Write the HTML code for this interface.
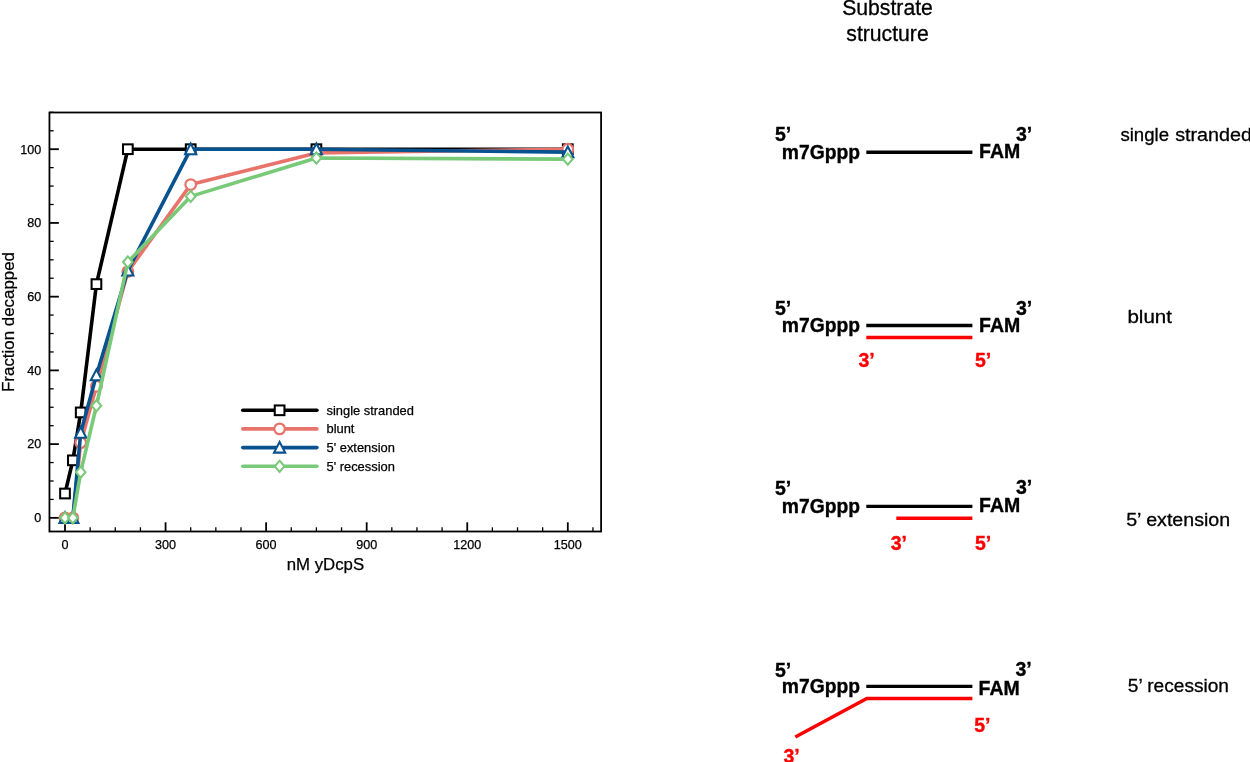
<!DOCTYPE html>
<html><head><meta charset="utf-8"><title>Fraction decapped</title>
<style>html,body{margin:0;padding:0;background:#fff;}body{width:1250px;height:762px;overflow:hidden;}svg{display:block;}text{font-family:"Liberation Sans",sans-serif;}</style></head><body>
<svg width="1250" height="762" viewBox="0 0 1250 762">
<rect width="1250" height="762" fill="#fff"/>
<clipPath id="pc"><rect x="49.45" y="112.5" width="551.65" height="419.0"/></clipPath>
<g stroke="#000" stroke-width="1.8" fill="none">
<line x1="49.45" y1="517.85" x2="58.85" y2="517.85"/>
<line x1="49.45" y1="499.42" x2="53.650000000000006" y2="499.42" stroke-width="1.3"/>
<line x1="49.45" y1="480.99" x2="53.650000000000006" y2="480.99" stroke-width="1.3"/>
<line x1="49.45" y1="462.55" x2="53.650000000000006" y2="462.55" stroke-width="1.3"/>
<line x1="49.45" y1="444.12" x2="58.85" y2="444.12"/>
<line x1="49.45" y1="425.69" x2="53.650000000000006" y2="425.69" stroke-width="1.3"/>
<line x1="49.45" y1="407.25" x2="53.650000000000006" y2="407.25" stroke-width="1.3"/>
<line x1="49.45" y1="388.82" x2="53.650000000000006" y2="388.82" stroke-width="1.3"/>
<line x1="49.45" y1="370.39" x2="58.85" y2="370.39"/>
<line x1="49.45" y1="351.96" x2="53.650000000000006" y2="351.96" stroke-width="1.3"/>
<line x1="49.45" y1="333.52" x2="53.650000000000006" y2="333.52" stroke-width="1.3"/>
<line x1="49.45" y1="315.09" x2="53.650000000000006" y2="315.09" stroke-width="1.3"/>
<line x1="49.45" y1="296.66" x2="58.85" y2="296.66"/>
<line x1="49.45" y1="278.23" x2="53.650000000000006" y2="278.23" stroke-width="1.3"/>
<line x1="49.45" y1="259.80" x2="53.650000000000006" y2="259.80" stroke-width="1.3"/>
<line x1="49.45" y1="241.36" x2="53.650000000000006" y2="241.36" stroke-width="1.3"/>
<line x1="49.45" y1="222.93" x2="58.85" y2="222.93"/>
<line x1="49.45" y1="204.50" x2="53.650000000000006" y2="204.50" stroke-width="1.3"/>
<line x1="49.45" y1="186.06" x2="53.650000000000006" y2="186.06" stroke-width="1.3"/>
<line x1="49.45" y1="167.63" x2="53.650000000000006" y2="167.63" stroke-width="1.3"/>
<line x1="49.45" y1="149.20" x2="58.85" y2="149.20"/>
<line x1="49.45" y1="130.77" x2="53.650000000000006" y2="130.77" stroke-width="1.3"/>
<line x1="49.45" y1="112.34" x2="53.650000000000006" y2="112.34" stroke-width="1.3"/>
<line x1="65.00" y1="531.5" x2="65.00" y2="522.3"/>
<line x1="90.14" y1="531.5" x2="90.14" y2="527.3" stroke-width="1.3"/>
<line x1="115.28" y1="531.5" x2="115.28" y2="527.3" stroke-width="1.3"/>
<line x1="140.42" y1="531.5" x2="140.42" y2="527.3" stroke-width="1.3"/>
<line x1="165.56" y1="531.5" x2="165.56" y2="522.3"/>
<line x1="190.70" y1="531.5" x2="190.70" y2="527.3" stroke-width="1.3"/>
<line x1="215.84" y1="531.5" x2="215.84" y2="527.3" stroke-width="1.3"/>
<line x1="240.98" y1="531.5" x2="240.98" y2="527.3" stroke-width="1.3"/>
<line x1="266.12" y1="531.5" x2="266.12" y2="522.3"/>
<line x1="291.26" y1="531.5" x2="291.26" y2="527.3" stroke-width="1.3"/>
<line x1="316.40" y1="531.5" x2="316.40" y2="527.3" stroke-width="1.3"/>
<line x1="341.54" y1="531.5" x2="341.54" y2="527.3" stroke-width="1.3"/>
<line x1="366.68" y1="531.5" x2="366.68" y2="522.3"/>
<line x1="391.82" y1="531.5" x2="391.82" y2="527.3" stroke-width="1.3"/>
<line x1="416.96" y1="531.5" x2="416.96" y2="527.3" stroke-width="1.3"/>
<line x1="442.10" y1="531.5" x2="442.10" y2="527.3" stroke-width="1.3"/>
<line x1="467.24" y1="531.5" x2="467.24" y2="522.3"/>
<line x1="492.38" y1="531.5" x2="492.38" y2="527.3" stroke-width="1.3"/>
<line x1="517.52" y1="531.5" x2="517.52" y2="527.3" stroke-width="1.3"/>
<line x1="542.66" y1="531.5" x2="542.66" y2="527.3" stroke-width="1.3"/>
<line x1="567.80" y1="531.5" x2="567.80" y2="522.3"/>
<line x1="592.94" y1="531.5" x2="592.94" y2="527.3" stroke-width="1.3"/>
</g>
<g clip-path="url(#pc)">
<polyline points="65.00,493.52 72.86,460.34 80.71,412.42 96.42,284.13 127.85,149.20 190.70,149.20 316.40,149.20 567.80,149.20" fill="none" stroke="#000000" stroke-width="3.6" stroke-linejoin="round"/>
<rect x="60.15" y="488.67" width="9.70" height="9.70" fill="#fff" stroke="#000000" stroke-width="2.05"/>
<rect x="68.01" y="455.49" width="9.70" height="9.70" fill="#fff" stroke="#000000" stroke-width="2.05"/>
<rect x="75.86" y="407.57" width="9.70" height="9.70" fill="#fff" stroke="#000000" stroke-width="2.05"/>
<rect x="91.58" y="279.28" width="9.70" height="9.70" fill="#fff" stroke="#000000" stroke-width="2.05"/>
<rect x="123.00" y="144.35" width="9.70" height="9.70" fill="#fff" stroke="#000000" stroke-width="2.05"/>
<rect x="185.85" y="144.35" width="9.70" height="9.70" fill="#fff" stroke="#000000" stroke-width="2.05"/>
<rect x="311.55" y="144.35" width="9.70" height="9.70" fill="#fff" stroke="#000000" stroke-width="2.05"/>
<rect x="562.95" y="144.35" width="9.70" height="9.70" fill="#fff" stroke="#000000" stroke-width="2.05"/>
<polyline points="65.00,517.85 72.86,517.85 80.71,442.65 96.42,386.24 127.85,271.59 190.70,184.59 316.40,152.89 567.80,149.20" fill="none" stroke="#E8736B" stroke-width="3.6" stroke-linejoin="round"/>
<circle cx="65.00" cy="517.85" r="5.3" fill="#fff" stroke="#E8736B" stroke-width="2.2"/>
<circle cx="72.86" cy="517.85" r="5.3" fill="#fff" stroke="#E8736B" stroke-width="2.2"/>
<circle cx="80.71" cy="442.65" r="5.3" fill="#fff" stroke="#E8736B" stroke-width="2.2"/>
<circle cx="96.42" cy="386.24" r="5.3" fill="#fff" stroke="#E8736B" stroke-width="2.2"/>
<circle cx="127.85" cy="271.59" r="5.3" fill="#fff" stroke="#E8736B" stroke-width="2.2"/>
<circle cx="190.70" cy="184.59" r="5.3" fill="#fff" stroke="#E8736B" stroke-width="2.2"/>
<circle cx="316.40" cy="152.89" r="5.3" fill="#fff" stroke="#E8736B" stroke-width="2.2"/>
<circle cx="567.80" cy="149.20" r="5.3" fill="#fff" stroke="#E8736B" stroke-width="2.2"/>
<polyline points="65.00,517.85 72.86,517.85 80.71,432.69 96.42,375.18 127.85,270.49 190.70,149.20 316.40,149.20 567.80,152.15" fill="none" stroke="#07528F" stroke-width="3.6" stroke-linejoin="round"/>
<path d="M65.00 512.15L70.60 522.85L59.40 522.85Z" fill="#fff" stroke="#07528F" stroke-width="2.05"/>
<path d="M72.86 512.15L78.46 522.85L67.26 522.85Z" fill="#fff" stroke="#07528F" stroke-width="2.05"/>
<path d="M80.71 426.99L86.31 437.69L75.11 437.69Z" fill="#fff" stroke="#07528F" stroke-width="2.05"/>
<path d="M96.42 369.48L102.02 380.18L90.83 380.18Z" fill="#fff" stroke="#07528F" stroke-width="2.05"/>
<path d="M127.85 264.79L133.45 275.49L122.25 275.49Z" fill="#fff" stroke="#07528F" stroke-width="2.05"/>
<path d="M190.70 143.50L196.30 154.20L185.10 154.20Z" fill="#fff" stroke="#07528F" stroke-width="2.05"/>
<path d="M316.40 143.50L322.00 154.20L310.80 154.20Z" fill="#fff" stroke="#07528F" stroke-width="2.05"/>
<path d="M567.80 146.45L573.40 157.15L562.20 157.15Z" fill="#fff" stroke="#07528F" stroke-width="2.05"/>
<polyline points="65.00,517.85 72.86,517.85 80.71,472.14 96.42,405.78 127.85,262.01 190.70,196.39 316.40,158.05 567.80,159.15" fill="none" stroke="#78CA79" stroke-width="3.6" stroke-linejoin="round"/>
<path d="M65.00 512.25L69.80 517.85L65.00 523.45L60.20 517.85Z" fill="#fff" stroke="#78CA79" stroke-width="2.05"/>
<path d="M72.86 512.25L77.66 517.85L72.86 523.45L68.06 517.85Z" fill="#fff" stroke="#78CA79" stroke-width="2.05"/>
<path d="M80.71 466.54L85.51 472.14L80.71 477.74L75.91 472.14Z" fill="#fff" stroke="#78CA79" stroke-width="2.05"/>
<path d="M96.42 400.18L101.22 405.78L96.42 411.38L91.62 405.78Z" fill="#fff" stroke="#78CA79" stroke-width="2.05"/>
<path d="M127.85 256.41L132.65 262.01L127.85 267.61L123.05 262.01Z" fill="#fff" stroke="#78CA79" stroke-width="2.05"/>
<path d="M190.70 190.79L195.50 196.39L190.70 201.99L185.90 196.39Z" fill="#fff" stroke="#78CA79" stroke-width="2.05"/>
<path d="M316.40 152.45L321.20 158.05L316.40 163.65L311.60 158.05Z" fill="#fff" stroke="#78CA79" stroke-width="2.05"/>
<path d="M567.80 153.55L572.60 159.15L567.80 164.75L563.00 159.15Z" fill="#fff" stroke="#78CA79" stroke-width="2.05"/>
</g>
<rect x="49.45" y="112.5" width="551.65" height="419.0" fill="none" stroke="#000" stroke-width="1.8"/>
<g font-size="12.6" fill="#000" stroke="#000" stroke-width="0.25">
<text x="41.2" y="522.15" text-anchor="end">0</text>
<text x="41.2" y="448.42" text-anchor="end">20</text>
<text x="41.2" y="374.69" text-anchor="end">40</text>
<text x="41.2" y="300.96" text-anchor="end">60</text>
<text x="41.2" y="227.23" text-anchor="end">80</text>
<text x="41.2" y="153.50" text-anchor="end">100</text>
<text x="65.00" y="549.2" text-anchor="middle">0</text>
<text x="165.56" y="549.2" text-anchor="middle">300</text>
<text x="266.12" y="549.2" text-anchor="middle">600</text>
<text x="366.68" y="549.2" text-anchor="middle">900</text>
<text x="467.24" y="549.2" text-anchor="middle">1200</text>
<text x="567.80" y="549.2" text-anchor="middle">1500</text>
</g>
<text x="325.4" y="569.7" font-size="16.8" text-anchor="middle" fill="#000" stroke="#000" stroke-width="0.25">nM yDcpS</text>
<text transform="translate(13.7 322) rotate(-90)" font-size="16.9" text-anchor="middle" fill="#000" stroke="#000" stroke-width="0.25">Fraction decapped</text>
<line x1="242.8" y1="410.3" x2="316.9" y2="410.3" stroke="#000000" stroke-width="3.6" stroke-linecap="round"/>
<rect x="274.75" y="405.45" width="9.70" height="9.70" fill="#fff" stroke="#000000" stroke-width="2.05"/>
<text x="326.5" y="414.80" font-size="12.9" fill="#000" stroke="#000" stroke-width="0.25">single stranded</text>
<line x1="242.8" y1="428.9" x2="316.9" y2="428.9" stroke="#E8736B" stroke-width="3.6" stroke-linecap="round"/>
<circle cx="279.60" cy="428.90" r="5.3" fill="#fff" stroke="#E8736B" stroke-width="2.2"/>
<text x="326.5" y="433.40" font-size="12.9" fill="#000" stroke="#000" stroke-width="0.25">blunt</text>
<line x1="242.8" y1="447.6" x2="316.9" y2="447.6" stroke="#07528F" stroke-width="3.6" stroke-linecap="round"/>
<path d="M279.60 441.90L285.20 452.60L274.00 452.60Z" fill="#fff" stroke="#07528F" stroke-width="2.05"/>
<text x="326.5" y="452.10" font-size="12.9" fill="#000" stroke="#000" stroke-width="0.25">5' extension</text>
<line x1="242.8" y1="466.3" x2="316.9" y2="466.3" stroke="#78CA79" stroke-width="3.6" stroke-linecap="round"/>
<path d="M279.60 460.70L284.40 466.30L279.60 471.90L274.80 466.30Z" fill="#fff" stroke="#78CA79" stroke-width="2.05"/>
<text x="326.5" y="470.80" font-size="12.9" fill="#000" stroke="#000" stroke-width="0.25">5' recession</text>
<g font-size="21.2" fill="#000" stroke="#000" stroke-width="0.3" text-anchor="middle"><text x="887.5" y="15.4">Substrate</text><text x="887.5" y="41.4">structure</text></g>
<g font-size="19.5" font-weight="bold" fill="#000" stroke="#000" stroke-width="0.35">
<text x="775" y="141.0">5’</text>
<text x="781.8" y="158.8" font-size="19.3">m7Gppp</text>
<text x="979.1" y="158.3">FAM</text>
<text x="1015.9" y="140.8">3’</text>
<line x1="866.3" y1="152.2" x2="972.4" y2="152.2" stroke-width="3.4"/>
<text x="775" y="314.8">5’</text>
<text x="781.8" y="331.9" font-size="19.3">m7Gppp</text>
<text x="979.1" y="332.2">FAM</text>
<text x="1015.9" y="314.7">3’</text>
<line x1="866.3" y1="325.5" x2="972.4" y2="325.5" stroke-width="3.4"/>
<text x="775" y="494.6">5’</text>
<text x="781.8" y="512.9" font-size="19.3">m7Gppp</text>
<text x="979.1" y="512.0">FAM</text>
<text x="1015.9" y="494.4">3’</text>
<line x1="866.3" y1="506.4" x2="972.4" y2="506.4" stroke-width="3.4"/>
<text x="775" y="677.3">5’</text>
<text x="781.8" y="693.1" font-size="19.3">m7Gppp</text>
<text x="978.6" y="694.9">FAM</text>
<text x="1015.4" y="676.4">3’</text>
<line x1="866.3" y1="686.4" x2="972.4" y2="686.4" stroke-width="3.4"/>
</g>
<g font-size="19.5" font-weight="bold" fill="#FF0000" stroke="#FF0000" stroke-width="0.35">
<line x1="866.3" y1="337.5" x2="972.4" y2="337.5" stroke-width="3.4"/>
<text x="858.5" y="366.9">3’</text><text x="974.9" y="366.9">5’</text>
<line x1="896.3" y1="518.3" x2="972.4" y2="518.3" stroke-width="3.4"/>
<text x="890.7" y="550">3’</text><text x="974.9" y="550">5’</text>
<polyline points="795.3,737 866.8,698.4 972.4,698.4" fill="none" stroke-width="3.5"/>
<text x="783.4" y="762.9">3’</text><text x="974.2" y="731.6">5’</text>
</g>
<g font-size="18.8" fill="#000" stroke="#000" stroke-width="0.3">
<text y="140.8"><tspan x="1120.4" textLength="48.6" lengthAdjust="spacingAndGlyphs">single</tspan><tspan> </tspan><tspan x="1175.2" textLength="76.8" lengthAdjust="spacingAndGlyphs">stranded</tspan></text>
<text x="1127.4" y="323" textLength="44.6" lengthAdjust="spacingAndGlyphs">blunt</text>
<text x="1126.2" y="526" textLength="104" lengthAdjust="spacingAndGlyphs">5’ extension</text>
<text x="1127.8" y="692.2" textLength="101.2" lengthAdjust="spacingAndGlyphs">5’ recession</text>
</g>
</svg></body></html>
